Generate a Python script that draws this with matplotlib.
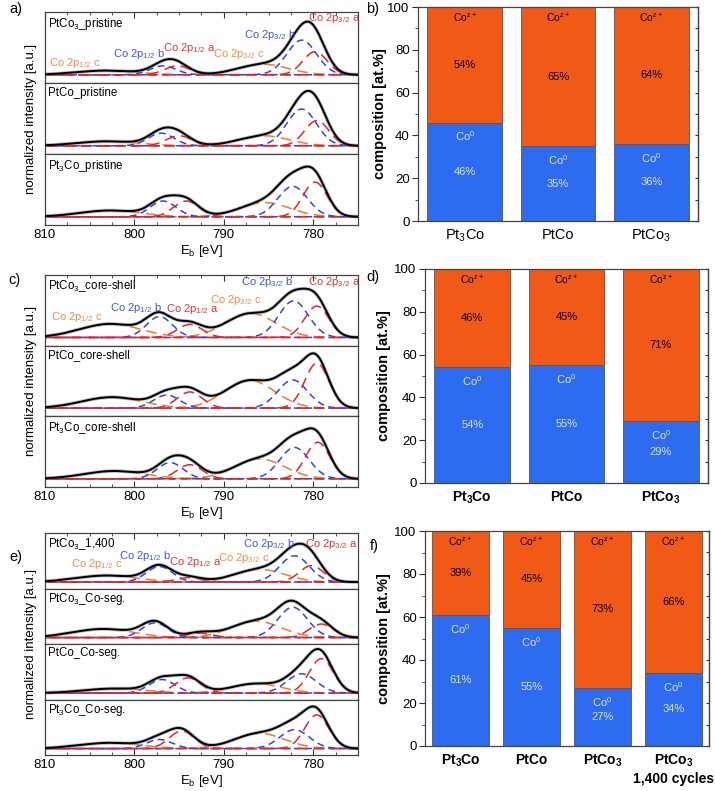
import numpy as np
import matplotlib
matplotlib.use('Agg')
import matplotlib.pyplot as plt

plt.rcParams['font.family'] = ['Liberation Sans', 'DejaVu Sans']
plt.rcParams['mathtext.fontset'] = 'custom'
plt.rcParams['mathtext.rm'] = 'Liberation Sans'
plt.rcParams['mathtext.it'] = 'Liberation Sans:italic'
plt.rcParams['mathtext.bf'] = 'Liberation Sans:bold'
plt.rcParams['mathtext.default'] = 'regular'

# ------------------------------------------------------------------ data
# fitted components, order: 2p3/2 a, 2p3/2 b, 2p3/2 c, 2p1/2 a, 2p1/2 b, 2p1/2 c
comp_kind = ['a', 'b', 'c', 'a', 'b', 'c']
comp_sigma = [1.35, 1.65, 2.8, 1.4, 1.45, 3.4]

a_names = ['PtCo$_3$_pristine', 'PtCo_pristine', 'Pt$_3$Co_pristine']
a_centers = [[779.8, 781.3, 785.6, 795.2, 796.8, 803.1],
             [779.6, 781.3, 785.5, 795.0, 797.0, 803.0],
             [779.8, 782.3, 785.4, 794.2, 796.8, 802.7]]
a_heights = [[0.44, 0.66, 0.20, 0.17, 0.17, 0.08],
             [0.48, 0.70, 0.19, 0.19, 0.24, 0.085],
             [0.66, 0.58, 0.27, 0.30, 0.30, 0.12]]

c_names = ['PtCo$_3$_core-shell', 'PtCo_core-shell', 'Pt$_3$Co_core-shell']
c_centers = [[779.6, 782.2, 787.0, 793.8, 797.2, 802.7],
             [779.6, 782.3, 787.1, 793.8, 796.4, 802.5],
             [779.5, 782.1, 786.0, 793.8, 796.0, 802.2]]
c_heights = [[0.60, 0.70, 0.46, 0.25, 0.40, 0.26],
             [0.86, 0.54, 0.53, 0.31, 0.25, 0.21],
             [0.70, 0.60, 0.38, 0.27, 0.31, 0.15]]

e_names = ['PtCo$_3$_1,400', 'PtCo$_3$_Co-seg.', 'PtCo_Co-seg.', 'Pt$_3$Co_Co-seg.']
e_centers = [[780.2, 782.1, 786.0, 793.8, 797.2, 803.1],
             [779.1, 782.3, 786.4, 792.7, 797.7, 803.5],
             [779.1, 781.3, 786.4, 794.0, 796.9, 802.2],
             [779.6, 782.1, 786.0, 794.7, 797.2, 802.7]]
e_heights = [[0.40, 0.64, 0.31, 0.11, 0.38, 0.16],
             [0.33, 0.74, 0.40, 0.11, 0.36, 0.21],
             [0.84, 0.47, 0.23, 0.37, 0.33, 0.11],
             [0.82, 0.46, 0.37, 0.43, 0.22, 0.14]]

b_cats = ['Pt$_3$Co', 'PtCo', 'PtCo$_3$']
b_co0 = [46, 35, 36]
b_coz = [54, 65, 64]

d_cats = ['Pt$_3$Co', 'PtCo', 'PtCo$_3$']
d_co0 = [54, 55, 29]
d_coz = [46, 45, 71]

f_cats = ['Pt$_3$Co', 'PtCo', 'PtCo$_3$', 'PtCo$_3$\n1,400 cycles']
f_co0 = [61, 55, 27, 34]
f_coz = [39, 45, 73, 66]

comp_labels = ['Co 2p$_{3/2}$ a', 'Co 2p$_{3/2}$ b', 'Co 2p$_{3/2}$ c',
               'Co 2p$_{1/2}$ a', 'Co 2p$_{1/2}$ b', 'Co 2p$_{1/2}$ c']

# ------------------------------------------------------------------ style
W, H = 715, 791
RED = '#ea2228'
BLUE = '#2c46e2'
ORANGE = '#f07a30'
LRED = '#ee3030'
LBLUE = '#3d55e0'
LORANGE = '#f5894a'
BAR_BLUE = '#2d6cf0'
BAR_ORANGE = '#f05a16'
kind_color = {'a': RED, 'b': BLUE, 'c': ORANGE}
kind_dash = {'a': (0, (7, 4)), 'b': (0, (4.5, 3)), 'c': (0, (7, 4))}

fig = plt.figure(figsize=(W / 100, H / 100), dpi=100)


def rect(l, r, t, b):
    return [l / W, 1 - b / H, (r - l) / W, (b - t) / H]


E = np.linspace(775, 810, 800)


def gauss(c, h, s):
    return h * np.exp(-0.5 * ((E - c) / s) ** 2)


def spectra_panel(l, r, t, b, names, centers, heights, labels_pos):
    n = len(names)
    hh = (b - t) / n
    axes = []
    for i in range(n):
        ax = fig.add_axes(rect(l, r, t + i * hh, t + (i + 1) * hh))
        total = np.zeros_like(E)
        comps = []
        for k in range(6):
            g = gauss(centers[i][k], heights[i][k], comp_sigma[k])
            total += g
            comps.append(g)
        ax.plot(E, total, color='#b4bebe', lw=2.6, zorder=1)
        for k in [2, 5, 4, 1, 3, 0]:
            kd = comp_kind[k]
            ax.plot(E, comps[k], color=kind_color[kd], lw=1.1,
                    linestyle=kind_dash[kd], zorder=2)
        ax.plot(E, total, color='black', lw=1.4, zorder=3)
        ax.set_xlim(810, 775)
        ax.set_ylim(-0.157, 1.196)
        ax.set_yticks([])
        ax.set_xticks([810, 800, 790, 780])
        ax.set_xticks(np.arange(775, 810.1, 2.5), minor=True)
        ax.tick_params(axis='x', which='both', direction='in',
                       top=(i == 0), bottom=(i == n - 1),
                       labelbottom=(i == n - 1), labelsize=9.5,
                       color='#333333', pad=3)
        ax.tick_params(axis='x', which='major', length=4)
        ax.tick_params(axis='x', which='minor', length=2.2)
        for s in ax.spines.values():
            s.set_color('#444444')
            s.set_linewidth(0.9)
        ax.text(0.008, 0.95, names[i], transform=ax.transAxes, ha='left',
                va='top', fontsize=8.3)
        if i == 0:
            cols = [LRED, LBLUE, LORANGE, LRED, LBLUE, LORANGE]
            for k in range(6):
                x, y = labels_pos[k]
                ax.text(x, y, comp_labels[k], transform=ax.transAxes,
                        ha='center', va='center', fontsize=8, color=cols[k])
        axes.append(ax)
    axes[-1].set_xlabel('E$_b$ [eV]', fontsize=9.5, labelpad=1)
    fig.text(31 / W, 1 - (t + b) / 2 / H, 'normalized intensity [a.u.]',
             rotation=90, ha='center', va='center', fontsize=9.5)
    return axes


def bar_panel(l, r, t, b, cats, co0, coz, fs_cat, bold_cat, lab_x):
    ax = fig.add_axes(rect(l, r, t, b))
    x = np.arange(len(cats))
    ax.bar(x, co0, width=0.8, color=BAR_BLUE, edgecolor='#555555', lw=0.6)
    ax.bar(x, coz, width=0.8, bottom=co0, color=BAR_ORANGE,
           edgecolor='#555555', lw=0.6)
    for xi, v0, vz in zip(x, co0, coz):
        ax.text(xi, 94.5, 'Co$^{z+}$', ha='center', va='center', fontsize=7.5)
        ax.text(xi, v0 + vz / 2, f'{vz}%', ha='center', va='center', fontsize=8)
        ax.text(xi, v0 - 6.5, 'Co$^0$', ha='center', va='center', fontsize=8,
                color='#e2e2e2')
        ax.text(xi, v0 / 2, f'{v0}%', ha='center', va='center', fontsize=8,
                color='#e2e2e2')
    ax.set_xlim(-0.5, len(cats) - 0.5)
    ax.set_ylim(0, 100)
    ax.set_xticks(x)
    ax.set_xticklabels(cats, fontsize=fs_cat,
                       fontweight='bold' if bold_cat else 'normal')
    ax.tick_params(axis='x', length=0, pad=5)
    ax.set_yticks([0, 20, 40, 60, 80, 100])
    ax.set_yticks(np.arange(10, 100, 20), minor=True)
    ax.tick_params(axis='y', which='both', direction='out', labelsize=9.5,
                   color='#333333', pad=2)
    ax.tick_params(axis='y', which='major', length=4)
    ax.tick_params(axis='y', which='minor', length=2.2)
    sec = ax.secondary_yaxis('right')
    sec.set_yticks(np.arange(0, 101, 10))
    sec.tick_params(direction='in', length=2.5, labelright=False, color='#333333')
    for s in list(ax.spines.values()) + [sec.spines['right']]:
        s.set_color('#444444')
        s.set_linewidth(0.9)
    ax.set_ylabel('composition [at.%]', fontsize=10.5, fontweight='bold')
    ax.yaxis.set_label_coords((lab_x - l) / (r - l), 0.5)
    return ax


a_lab = [(0.925, 0.91), (0.72, 0.67), (0.62, 0.41), (0.46, 0.49), (0.30, 0.41), (0.096, 0.275)]
c_lab = [(0.925, 0.90), (0.71, 0.90), (0.61, 0.65), (0.47, 0.52), (0.29, 0.53), (0.10, 0.41)]
e_lab = [(0.915, 0.81), (0.715, 0.81), (0.635, 0.55), (0.48, 0.48), (0.32, 0.59), (0.166, 0.44)]

spectra_panel(45, 358, 12, 225, a_names, a_centers, a_heights, a_lab)
spectra_panel(45, 358, 275, 487, c_names, c_centers, c_heights, c_lab)
spectra_panel(45, 358, 533, 755, e_names, e_centers, e_heights, e_lab)

bar_panel(418, 698, 7, 221, b_cats, b_co0, b_coz, 10.5, False, 387)
bar_panel(425, 708, 269, 483, d_cats, d_co0, d_coz, 10, True, 391)
bar_panel(425, 709, 531, 746, f_cats, f_co0, f_coz, 10, True, 391)

for lab, (px, py) in {'a)': (16, 9), 'b)': (373, 9), 'c)': (14, 280),
                      'd)': (373, 277), 'e)': (16, 557), 'f)': (374, 546)}.items():
    fig.text(px / W, 1 - py / H, lab, ha='center', va='center', fontsize=10.5)

fig.savefig('out.png', dpi=100)
